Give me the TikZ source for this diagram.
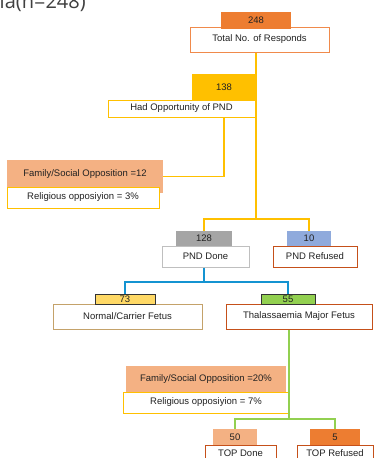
\documentclass[tikz,border=0pt]{standalone}
\usepackage{fontspec}
\setmainfont{Liberation Sans}
\newfontfamily\titlefont{Open Sans}
\definecolor{corange}{HTML}{ED7D31}
\definecolor{corangeL}{HTML}{F08A4B}
\definecolor{cyellow}{HTML}{FFC000}
\definecolor{csalmon}{HTML}{F4B183}
\definecolor{cgray}{HTML}{A5A5A5}
\definecolor{cgrayL}{HTML}{BFBFBF}
\definecolor{cblueL}{HTML}{8FAADC}
\definecolor{cblue}{HTML}{1493D1}
\definecolor{cgreen}{HTML}{92D050}
\definecolor{crust}{HTML}{C5501A}
\definecolor{ctan}{HTML}{C4A26A}
\definecolor{cgold}{HTML}{FFD966}
\definecolor{cdark}{HTML}{333333}
\definecolor{txt}{HTML}{222222}
\definecolor{titlegray}{HTML}{404040}
\begin{document}
\begin{tikzpicture}[x=1pt,y=-1pt,
  lbl/.style={inner sep=0pt, font=\fontsize{9.5}{11}\selectfont, text=txt},
  box/.style={lbl, draw, fill=white, line width=1pt},
  numbox/.style={lbl},
  sz/.style 2 args={minimum width=#1, minimum height=#2},
  yline/.style={draw=cyellow, line width=1.7pt},
  bline/.style={draw=cblue, line width=1.5pt},
  gline/.style={draw=cgreen, line width=1.5pt}]
\useasboundingbox (0,0) rectangle (375,458);

% title (clipped at the top)
\node[anchor=base west, inner sep=0pt, font=\titlefont\fontsize{20}{24}\selectfont, text=titlegray] (title) at (-0.5,8.3) {ia(n=248)};

% level 1
\node[box, draw=corangeL, sz={139}{25}] (total) at (259.5,39.5) {Total No. of Responds};
\node[numbox, fill=corange, sz={70}{16.5}] (n248) at (256,20.25) {248};

% level 2
\node[box, draw=cyellow, sz={147}{17}] (had) at (181.5,108.5) {Had Opportunity of PND};
\node[numbox, fill=cyellow, sz={64}{26}] (n138) at (224,87) {138};

% opposition 1
\node[lbl, fill=csalmon, sz={156}{33}, text height=7pt, text depth=7pt] (fam1) at (85,176.5) {Family/Social Opposition =12};
\node[box, draw=cyellow, sz={152}{21}] (rel1) at (83,197.5) {Religious opposiyion = 3\%};

% level 3
\node[box, draw=cgrayL, sz={87}{21}] (done) at (205.5,256.5) {PND Done};
\node[numbox, fill=cgray, sz={56}{15}] (n128) at (204,238.5) {128};
\node[box, draw=crust, sz={84}{21}] (refused) at (315,256.5) {PND Refused};
\node[numbox, fill=cblueL, sz={44}{15}] (n10) at (309,238.5) {10};

% level 4
\node[box, draw=ctan, sz={149}{25}] (normal) at (127.5,316.5) {Normal/Carrier Fetus};
\node[numbox, fill=cgold, draw=cdark, line width=0.8pt, sz={60}{10}] (n73) at (125,299) {73};
\node[box, draw=crust, sz={146}{25}] (thal) at (299,316.5) {Thalassaemia Major Fetus};
\node[numbox, fill=cgreen, draw=cdark, line width=0.8pt, sz={54}{10}] (n55) at (288,299) {55};

% opposition 2
\node[lbl, fill=csalmon, sz={160}{26}] (fam2) at (206,379) {Family/Social Opposition =20\%};
\node[box, draw=cyellow, sz={166}{21}] (rel2) at (206,402.5) {Religious opposiyion = 7\%};

% level 5
\node[box, draw=crust, sz={71}{17}] (topdone) at (240.5,453.5) {TOP Done};
\node[numbox, fill=csalmon, sz={44}{16}] (n50) at (235,437) {50};
\node[box, draw=crust, sz={76}{17}] (toprefused) at (335,453.5) {TOP Refused};
\node[numbox, fill=corange, sz={50}{16}] (n5) at (335,437) {5};

% connectors
\coordinate (j1) at (256,219);
\draw[yline] (j1 |- total.south) -- (j1);
\draw[yline] (n128.north) |- (j1) -| (n10.north);
\draw[yline] (n138.center |- had.south) |- (fam1.east);

\coordinate (j2) at (204,282);
\draw[bline] (j2 |- done.south) -- (j2);
\draw[bline] (n73.north) |- (j2) -| (n55.north);

\coordinate (j3) at (289,419);
\draw[gline] (j3 |- thal.south) -- (j3);
\draw[gline] (n50.north) |- (j3) -| (n5.north);
\end{tikzpicture}
\end{document}
